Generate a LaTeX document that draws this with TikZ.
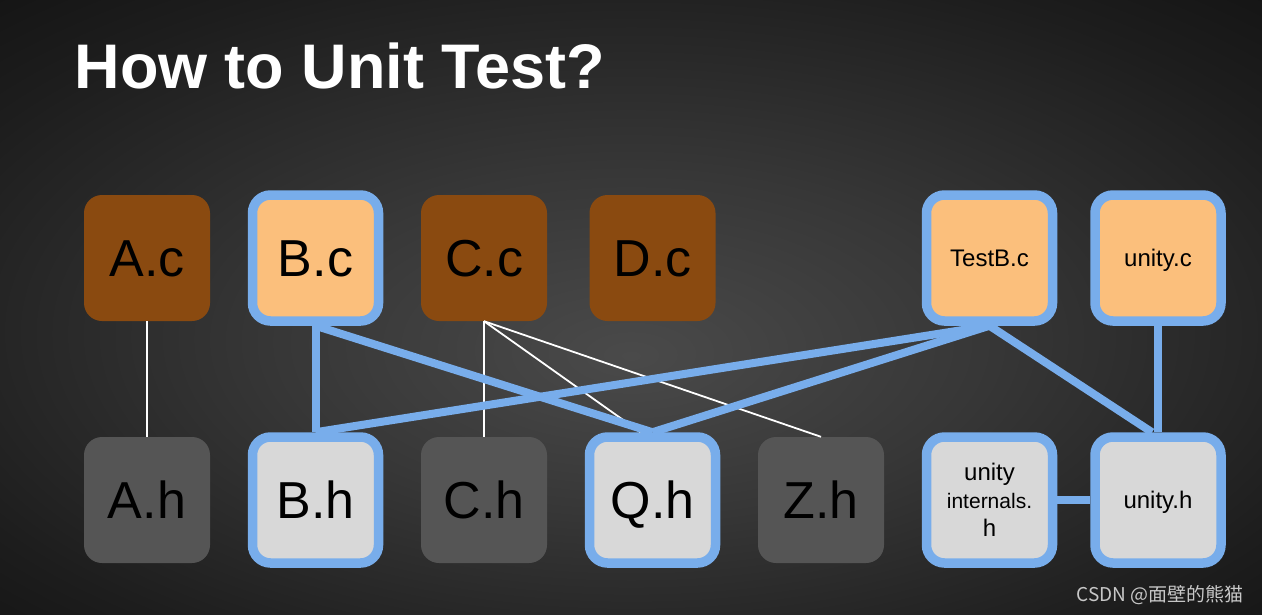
\documentclass[tikz,border=0pt]{standalone}
\usepackage{fontspec}
\setmainfont{Liberation Sans}
\newfontfamily\cjkfont{Noto Sans CJK SC}
\usetikzlibrary{positioning}

\definecolor{bgmid}{HTML}{4A4A4A}
\definecolor{bgedge}{HTML}{0A0A0A}
\definecolor{srcdark}{HTML}{8A4A10}
\definecolor{srclight}{HTML}{FBBF7C}
\definecolor{hdrdark}{HTML}{555555}
\definecolor{hdrlight}{HTML}{D8D8D8}
\definecolor{linkblue}{HTML}{78ADEB}
\definecolor{marktext}{HTML}{C8C8C8}

\pgfdeclareradialshading{slideglow}{\pgfpoint{0bp}{-4bp}}{color(0bp)=(bgmid); color(14bp)=(bgmid!70!bgedge); color(30bp)=(bgmid!30!bgedge); color(45bp)=(bgedge); color(50bp)=(bgedge)}

\begin{document}
\begin{tikzpicture}
[x=1pt,y=1pt,
 file/.style={shape=rectangle,rounded corners=18pt,minimum width=126pt,minimum height=126pt,inner sep=0pt,text=black,align=center,font=\fontsize{52}{52}\selectfont,text height=37pt,text depth=0pt},
 unused/.style={file},
 used/.style={file,draw=linkblue,line width=9.5pt},
 small/.style={font=\fontsize{24}{28}\selectfont,text height=17pt,text depth=0pt},
 include/.style={draw=white,line width=1.8pt},
 testlink/.style={draw=linkblue,line width=8pt},
 on grid,node distance=168.5pt]
\shade[shading=slideglow] (0,0) rectangle (1262,-614);
\useasboundingbox (0,0) rectangle (1262,-614);

\node (title) [anchor=base west,text=white,font=\fontsize{63}{63}\selectfont\bfseries] at (71,-88) {How to Unit Test?};

% sources
\node[unused,fill=srcdark] (Ac) at (147,-258) {A.c};
\node[used,fill=srclight] (Bc) [right=of Ac] {B.c};
\node[unused,fill=srcdark] (Cc) [right=of Bc] {C.c};
\node[unused,fill=srcdark] (Dc) [right=of Cc] {D.c};
\node[used,small,fill=srclight] (TestBc) [right=337pt of Dc] {TestB.c};
\node[used,small,fill=srclight] (unityc) [right=of TestBc] {unity.c};

% headers
\node[unused,fill=hdrdark] (Ah) [below=242pt of Ac] {A.h};
\node[used,fill=hdrlight] (Bh) [below=242pt of Bc] {B.h};
\node[unused,fill=hdrdark] (Ch) [below=242pt of Cc] {C.h};
\node[used,fill=hdrlight] (Qh) [below=242pt of Dc] {Q.h};
\node[unused,fill=hdrdark] (Zh) [right=of Qh] {Z.h};
\node[used,small,fill=hdrlight,text height={},text depth={}] (unityint) [below=242pt of TestBc] {unity\\\fontsize{21}{28}\selectfont internals.\\\fontsize{24}{28}\selectfont h};
\node[used,small,fill=hdrlight] (unityh) [below=242pt of unityc] {unity.h};

\draw[include] (Ac) -- (Ah);
\draw[include] (Cc.south) -- (Ch.north);
\draw[include] (Cc.south) -- ([xshift=-12pt]Qh.north);
\draw[include] (Cc.south) -- (Zh.north);

\draw[testlink] (Bc) -- (Bh);
\draw[testlink] (Bc.south) -- (Qh.north);
\draw[testlink] (TestBc.south) -- (Bh.north);
\draw[testlink] (TestBc.south) -- (Qh.north);
\draw[testlink] (TestBc.south) -- ([xshift=-6pt]unityh.north);
\draw[testlink] (unityc) -- (unityh);
\draw[testlink] (unityint) -- (unityh);

\node (mark) [anchor=base east,text=marktext,font=\cjkfont\fontsize{19}{19}\selectfont] at (1247,-601) {CSDN @面壁的熊猫};
\end{tikzpicture}
\end{document}
